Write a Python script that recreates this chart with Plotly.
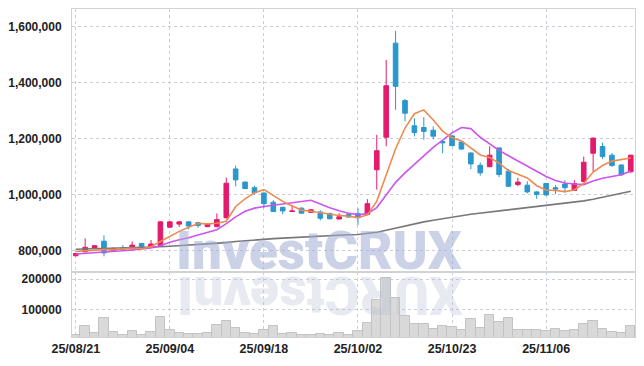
import plotly.graph_objects as go
from plotly.subplots import make_subplots

dates = ["25/08/21","25/08/22","25/08/25","25/08/26","25/08/27","25/08/28","25/08/29",
         "25/09/01","25/09/02","25/09/03","25/09/04","25/09/05","25/09/08","25/09/09",
         "25/09/10","25/09/11","25/09/12","25/09/15","25/09/16","25/09/17","25/09/18",
         "25/09/19","25/09/22","25/09/23","25/09/24","25/09/25","25/09/26","25/09/29",
         "25/09/30","25/10/01","25/10/02","25/10/10","25/10/13","25/10/14","25/10/15",
         "25/10/16","25/10/17","25/10/20","25/10/21","25/10/22","25/10/23","25/10/24",
         "25/10/27","25/10/28","25/10/29","25/10/30","25/10/31","25/11/03","25/11/04",
         "25/11/05","25/11/06","25/11/07","25/11/10","25/11/11","25/11/12","25/11/13",
         "25/11/14","25/11/17","25/11/18","25/11/19"]

open_k = [782,796,810,834,800,810,807,826,812,818,884,895,903,900,886,886,918,1092,1045,1025,
          1006,973,955,940,952,937,938,933,913,930,932,930,1089,1205,1541,1336,1246,1240,1230,1190,
          1210,1188,1149,1105,1100,1167,1084,1036,1034,1010,1040,1025,1038,1015,1047,1148,1172,1141,1106,1082]
high_k = [792,844,820,855,812,820,833,828,838,905,905,905,905,903,899,933,1061,1104,1047,1032,
          1008,980,957,962,955,949,944,936,934,932,951,984,1214,1481,1585,1342,1273,1277,1244,1192,
          1212,1190,1151,1115,1173,1169,1092,1060,1048,1013,1042,1034,1052,1052,1136,1204,1186,1149,1108,1143]
low_k = [780,795,808,780,798,800,803,810,810,815,882,885,876,882,884,884,914,1030,1020,1000,
         952,938,930,940,932,935,908,912,912,918,892,928,1018,1173,1303,1262,1208,1196,1198,1148,
         1173,1160,1091,1068,1098,1063,1029,1030,1005,985,997,1003,1007,1013,1045,1082,1127,1100,1067,1077]
close_k = [790,812,818,792,808,805,820,812,824,903,903,903,888,890,897,911,1041,1053,1022,1007,
           968,940,942,942,934,946,916,914,921,920,918,968,1157,1389,1387,1291,1222,1226,1209,1185,
           1175,1163,1110,1078,1141,1072,1030,1045,1010,1001,999,1020,1025,1040,1116,1202,1136,1104,1071,1141]

ma5_k = [797,800,803,804,804,807,809,807,814,833,852,869,884,897,896,898,905,958,985,1007,
         1018,998,976,960,945,941,936,930,926,923,918,928,977,1070,1164,1238,1289,1303,1267,1227,
         1203,1192,1168,1142,1133,1113,1086,1073,1060,1032,1017,1015,1011,1017,1040,1081,1104,1120,1126,1131]
ma10_k = [788,790,792,795,797,800,803,806,810,818,830,839,846,856,865,875,897,921,941,952,
          958,962,967,972,976,980,967,953,943,934,929,932,954,998,1044,1078,1109,1140,1169,1195,
          1221,1240,1236,1205,1180,1158,1139,1121,1101,1083,1065,1051,1042,1038,1036,1049,1059,1065,1071,1085]
ma60_k = [805,806,806,807,807,808,809,810,812,814,816,818,820,821,823,826,829,833,836,839,
          841,843,845,847,849,851,853,855,856,857,858,861,866,873,881,888,895,903,909,915,
          920,925,930,934,938,942,946,950,953,957,961,965,969,973,978,984,991,998,1005,1012]

volume_k = [18,46,23,72,27,18,29,18,27,76,32,24,20,20,24,51,63,40,24,20,
            32,46,20,24,17,17,20,17,24,17,29,55,131,204,138,78,53,53,35,46,
            43,32,68,40,82,58,72,32,32,32,29,35,29,32,52,62,35,27,22,46]

tick_dates = ["25/08/21","25/09/04","25/09/18","25/10/02","25/10/23","25/11/06"]
price_ticks = [800000, 1000000, 1200000, 1400000, 1600000]
volume_ticks = [100000, 200000]

opens = [v * 1000 for v in open_k]
highs = [v * 1000 for v in high_k]
lows = [v * 1000 for v in low_k]
closes = [v * 1000 for v in close_k]
ma5 = [v * 1000 for v in ma5_k]
ma10 = [v * 1000 for v in ma10_k]
ma60 = [v * 1000 for v in ma60_k]
volumes = [v * 1000 for v in volume_k]

UP = "#e31b6d"
DOWN = "#2b97cc"
GRID = "#c9cde0"
FRAME = "#d2d2d2"
YFONT = dict(family="Liberation Sans, Arial, sans-serif",
             size=12, color="#222222", weight="bold")
XFONT = dict(family="Liberation Sans, Arial, sans-serif",
             size=12.5, color="#222222", weight="bold")

fig = make_subplots(rows=2, cols=1, shared_xaxes=True, vertical_spacing=0,
                    row_heights=[0.8, 0.2])

fig.add_trace(go.Candlestick(
    x=dates, open=opens, high=highs, low=lows, close=closes,
    increasing=dict(line=dict(color=UP, width=1), fillcolor=UP),
    decreasing=dict(line=dict(color=DOWN, width=1), fillcolor=DOWN),
    whiskerwidth=0, showlegend=False, hoverinfo="skip"), row=1, col=1)

fig.add_trace(go.Scatter(x=dates, y=ma60, mode="lines",
                         line=dict(color="#787878", width=1.6), showlegend=False), row=1, col=1)
fig.add_trace(go.Scatter(x=dates, y=ma10, mode="lines",
                         line=dict(color="#cc55ee", width=1.6), showlegend=False), row=1, col=1)
fig.add_trace(go.Scatter(x=dates, y=ma5, mode="lines",
                         line=dict(color="#ef8a4f", width=1.6), showlegend=False), row=1, col=1)

fig.add_trace(go.Bar(x=dates, y=volumes, width=1.0,
                     marker=dict(color="#d9d9d9", line=dict(color="#c3c3c3", width=1)),
                     showlegend=False), row=2, col=1)

bottom = 0.19817
common_grid = dict(showgrid=True, gridcolor=GRID, griddash="dot", gridwidth=1,
                   showline=True, linecolor=FRAME, mirror=True, zeroline=False,
                   automargin=False)
# the page body adds an 8px offset, so the figure is 8px smaller and margins compensate
fig.update_layout(
    width=636, height=358,
    margin=dict(l=64, r=9, t=1, b=29, autoexpand=False),
    paper_bgcolor="white", plot_bgcolor="white",
    bargap=0,
    xaxis=dict(type="category", range=[-0.4, 59.45], rangeslider=dict(visible=False),
               tickmode="array", tickvals=tick_dates, showticklabels=False, **common_grid),
    xaxis2=dict(type="category", range=[-0.4, 59.45], matches="x",
                tickmode="array", tickvals=tick_dates, ticktext=tick_dates,
                showticklabels=True, tickfont=XFONT, ticks="", **common_grid),
    yaxis=dict(domain=[bottom, 1], range=[724000, 1663000],
               tickmode="array", tickvals=price_ticks, tickformat=",d",
               tickfont=YFONT, ticks="", ticklabelstandoff=7, **common_grid),
    yaxis2=dict(domain=[0, bottom], range=[10000, 224000],
                tickmode="array", tickvals=volume_ticks, tickformat="d",
                tickfont=YFONT, ticks="", ticklabelstandoff=7, **common_grid),
)

fig.add_annotation(xref="paper", yref="paper", x=0.4396, y=0.262,
                   text="InvestCRUX", showarrow=False, xanchor="center", yanchor="middle",
                   font=dict(family="Roboto, Liberation Sans, sans-serif", size=53,
                             color="rgba(160,172,212,0.55)", weight=900))
fig.add_annotation(xref="paper", yref="paper", x=0.4396, y=0.13,
                   text="XURCtsevnI", showarrow=False, xanchor="center", yanchor="middle",
                   textangle=180,
                   font=dict(family="Roboto, Liberation Sans, sans-serif", size=53,
                             color="rgba(185,190,215,0.32)", weight=900))

fig.write_html("out.html")
